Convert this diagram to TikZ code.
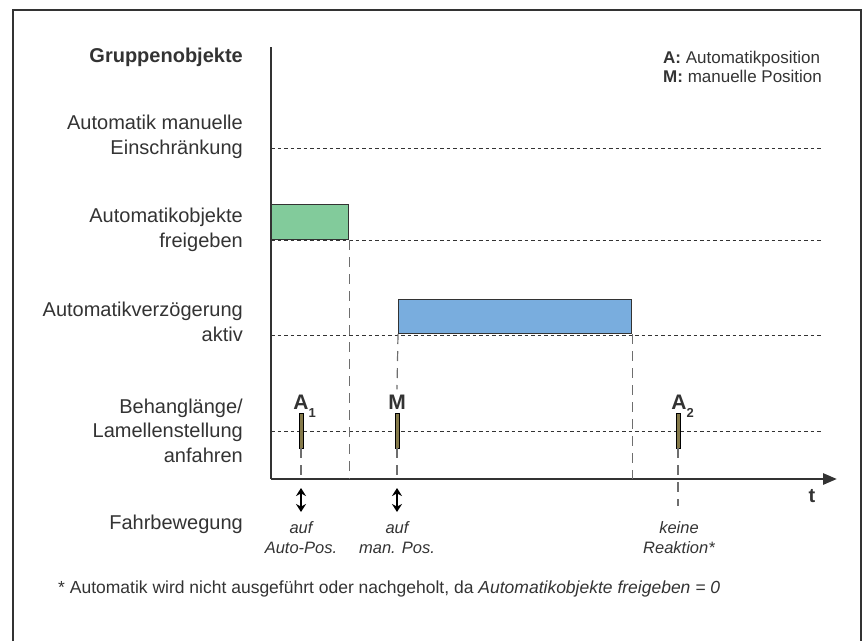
\documentclass[tikz,border=0pt]{standalone}
\usepackage{fontspec}
\setmainfont{Liberation Sans}
\usepackage{xcolor}
\usetikzlibrary{arrows.meta, positioning}
\definecolor{txt}{HTML}{333333}
\definecolor{greenfill}{HTML}{82CB9B}
\definecolor{bluefill}{HTML}{79ADDE}
\definecolor{barcol}{HTML}{857A4A}
\definecolor{markcol}{HTML}{6E6E6E}

\begin{document}
\begin{tikzpicture}[x=1pt, y=-1pt,
    rowlabel/.style={anchor=base east, align=right, inner sep=0pt, text=txt, font=\fontsize{20}{24.5}\selectfont},
    movelabel/.style={anchor=base, align=center, inner sep=0pt, text=txt, font=\itshape\fontsize{16.5}{19.5}\selectfont},
    poslabel/.style={anchor=base, inner sep=0pt, text=txt, font=\bfseries\fontsize{21}{21}\selectfont},
    grid line/.style={line width=0.9pt, txt, dash pattern=on 3.5pt off 3pt},
    marker/.style={line width=1.2pt, markcol, dash pattern=on 10pt off 7pt},
    statebox/.style={draw=txt, line width=1.4pt, inner sep=0pt, anchor=south west},
    posbar/.style={draw=black, line width=0.7pt, fill=barcol, minimum width=4pt, minimum height=35pt, inner sep=0pt},
    move/.style={line width=2pt, black, {Stealth[length=8pt,width=10pt]}-{Stealth[length=8pt,width=10pt]}}
]
\useasboundingbox (0,0) rectangle (865,641);

% frame
\draw[line width=1.5pt, txt] (13,641) -- (13,10) -- (861,10) -- (861,641);

% row labels (base = last line)
\node[rowlabel, font=\bfseries\fontsize{20}{24.5}\selectfont] (head) at (243,62) {Gruppenobjekte};
\node[rowlabel] (rowEin) at (243,154) {Automatik manuelle\\Einschränkung};
\node[rowlabel] (rowFrei) at (243,247) {Automatikobjekte\\freigeben};
\node[rowlabel] (rowVerz) at (243,341) {Automatikverzögerung\\aktiv};
\node[rowlabel] (rowPos) at (243,462) {Behanglänge/\\Lamellenstellung\\anfahren};
\node[rowlabel] (rowFahr) at (243,529) {Fahrbewegung};

% legend
\node[anchor=base west, inner sep=0pt, text=txt, font=\fontsize{17}{19}\selectfont] (legA) at (663,63) {\textbf{A:} Automatikposition};
\node[anchor=base west, inner sep=0pt, text=txt, font=\fontsize{17}{19}\selectfont] (legM) at (663,82) {\textbf{M:} manuelle Position};

% state boxes
\node[statebox, fill=greenfill, minimum width=77pt, minimum height=35pt] (freigabe) at (271,240) {};
\node[statebox, fill=bluefill, minimum width=233pt, minimum height=34pt] (verzoeg) at (398,334) {};

% dotted row lines
\foreach \y in {148,240,335,431} {
    \draw[grid line] (271,\y) -- (822,\y);
}

% axes
\coordinate (origin) at (271,479);
\coordinate (ytop) at (271,47);
\coordinate (tend) at (837,479);
\draw[line width=2pt, txt] (ytop) -- (origin);
\draw[line width=2.8pt, txt, -{Triangle[length=14pt,width=11pt]}] (origin) -- (tend);
\node[anchor=base, inner sep=0pt, text=txt, font=\bfseries\fontsize{20}{20}\selectfont] (tlabel) at (812,502) {t};

% positions
\node[posbar] (barA1) at (301,430.5) {};
\node[posbar] (barM) at (397,430.5) {};
\node[posbar] (barA2) at (678,430.5) {};
\node[poslabel] (labA1) at (301,409) {A\rlap{\raisebox{-8pt}{\fontsize{13}{13}\selectfont 1}}};
\node[poslabel] (labM) at (397,409) {M};
\node[poslabel] (labA2) at (679,409) {A\rlap{\raisebox{-8pt}{\fontsize{13}{13}\selectfont 2}}};

% time markers
\draw[marker] (freigabe.south east) -- (freigabe.south east |- origin);
\draw[marker] (verzoeg.south east) -- (verzoeg.south east |- origin);
\draw[marker] (verzoeg.south west) -- ([yshift=5pt]labM.north);
\draw[marker] (barM.south) -- (barM.south |- origin);
\draw[marker] (barA1.south) -- (barA1.south |- origin);
\coordinate (endA2) at (678,506);
\draw[marker] (barA2.south) -- (endA2);

% movements
\coordinate (moveA1) at (301,500);
\coordinate (moveM) at (397,500);
\draw[move] ([yshift=12pt]moveA1) -- ([yshift=-12pt]moveA1);
\draw[move] ([yshift=12pt]moveM) -- ([yshift=-12pt]moveM);
\node[movelabel] (txtA1) at (301,553) {auf\\Auto-Pos.};
\node[movelabel] (txtM) at (397,553) {auf\\man. Pos.};
\node[movelabel] (txtA2) at (679,553) {keine\\Reaktion*};

% footnote
\node[anchor=base west, inner sep=0pt, text=txt, font=\fontsize{17.5}{19}\selectfont] (note) at (58,593) {* Automatik wird nicht ausgeführt oder nachgeholt, da \textit{Automatikobjekte freigeben = 0}};

\end{tikzpicture}
\end{document}
